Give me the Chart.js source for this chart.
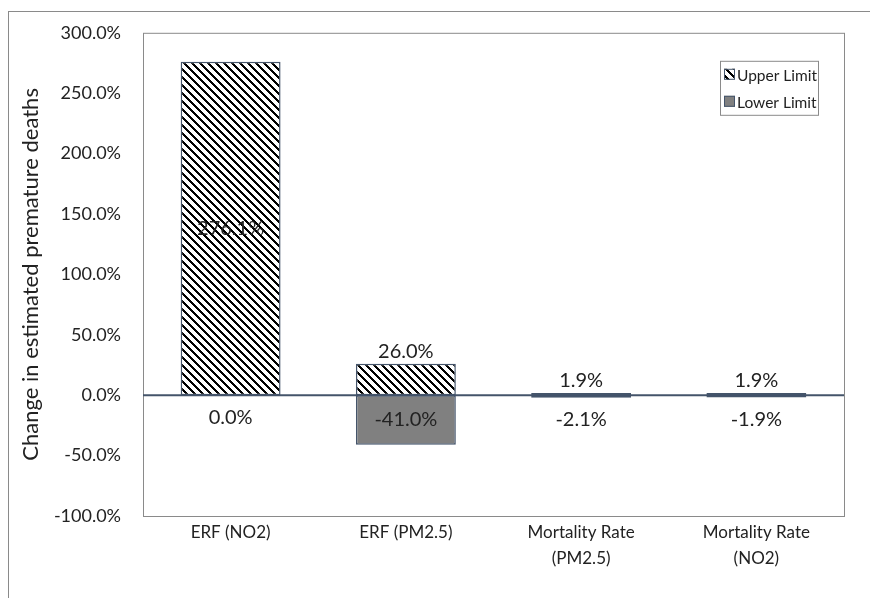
<!DOCTYPE html>
<html>
<head>
<meta charset="utf-8">
<script src="https://cdn.jsdelivr.net/npm/chart.js@4.4.0/dist/chart.umd.min.js"></script>
<style>
    body { margin: 0; background: #fff; }
    #wrap { position: relative; width: 870px; height: 598px; overflow: hidden; }
    #frame { position: absolute; left: 8px; top: 11px; width: 900px; height: 700px;
             border-left: 1px solid #8a8a8a; border-top: 1px solid #8a8a8a; }
    canvas { position: absolute; left: 0; top: 0; }
</style>
</head>
<body>
<div id="wrap">
    <div id="frame"></div>
    <canvas id="limits" width="870" height="598"></canvas>
</div>
<script>
// categories and series
const CATEGORIES = ['ERF (NO2)', 'ERF (PM2.5)', ['Mortality Rate', '(PM2.5)'], ['Mortality Rate', '(NO2)']];
const UPPER_LIMIT = [276.1, 26.0, 1.9, 1.9];
const LOWER_LIMIT = [0.0, -41.0, -2.1, -1.9];
const SERIES_NAMES = ['Upper Limit', 'Lower Limit'];
const Y_TICKS = { min: -100, max: 300, step: 50 };

const FONT = 'Lato, "Open Sans", sans-serif';
const TEXT = '#222';
const EDGE = '#44546a';
const FRAME = '#8a8a8a';

// Excel-like dark downward diagonal hatch
function makeHatch() {
    var c = document.createElement('canvas');
    c.width = 8; c.height = 8;
    var g = c.getContext('2d');
    g.fillStyle = '#fff';
    g.fillRect(0, 0, 8, 8);
    g.fillStyle = '#000';
    for (var i = 0; i < 8; i++) {
        for (var k = 0; k < 3; k++) {
            g.fillRect((i + k) % 8, i, 1, 1);
        }
    }
    return g.createPattern(c, 'repeat');
}
var hatch = makeHatch();

function pct(v) {
    return v.toFixed(1) + '%';
}

// plot frame + zero line, drawn under the bars
var plotFrame = {
    id: 'plotFrame',
    beforeDatasetsDraw: function (chart) {
        var ctx = chart.ctx, a = chart.chartArea;
        var y0 = chart.scales.y.getPixelForValue(0);
        ctx.save();
        ctx.strokeStyle = FRAME;
        ctx.lineWidth = 1;
        ctx.strokeRect(a.left + 0.5, a.top + 0.5, a.right - a.left, a.bottom - a.top);
        ctx.strokeStyle = EDGE;
        ctx.lineWidth = 2;
        ctx.beginPath();
        ctx.moveTo(a.left, y0);
        ctx.lineTo(a.right, y0);
        ctx.stroke();
        ctx.restore();
    }
};

// value labels: centred when the bar is tall enough, otherwise just past its end
var valueLabels = {
    id: 'valueLabels',
    afterDatasetsDraw: function (chart) {
        var ctx = chart.ctx;
        ctx.save();
        ctx.font = '20px ' + FONT;
        ctx.fillStyle = TEXT;
        ctx.textAlign = 'center';
        chart.data.datasets.forEach(function (ds, di) {
            chart.getDatasetMeta(di).data.forEach(function (bar, i) {
                var v = ds.data[i];
                var h = Math.abs(bar.base - bar.y);
                var y;
                if (h > 40) {
                    ctx.textBaseline = 'middle';
                    y = (bar.base + bar.y) / 2;
                } else if (v > 0) {
                    ctx.textBaseline = 'bottom';
                    y = Math.min(bar.y, bar.base) - 2;
                } else {
                    ctx.textBaseline = 'top';
                    y = Math.max(bar.y, bar.base) + 12;
                }
                ctx.fillText(pct(v), bar.x, y);
            });
        });
        ctx.restore();
    }
};

// boxed legend in the top right of the plot
var boxLegend = {
    id: 'boxLegend',
    afterDraw: function (chart) {
        var ctx = chart.ctx, a = chart.chartArea;
        var right = a.right - 26, top = a.top + 28;
        var w = 98, rowH = 27;
        var left = right - w;
        ctx.save();
        ctx.fillStyle = '#fff';
        ctx.fillRect(left, top, w, rowH * 2);
        ctx.strokeStyle = FRAME;
        ctx.lineWidth = 1;
        ctx.strokeRect(left + 0.5, top + 0.5, w, rowH * 2);
        ctx.font = '15.5px ' + FONT;
        ctx.textBaseline = 'middle';
        ctx.textAlign = 'left';
        chart.data.datasets.forEach(function (ds, i) {
            var cy = top + 14 + i * rowH;
            ctx.fillStyle = ds.backgroundColor;
            ctx.fillRect(left + 4, cy - 6, 11, 11);
            ctx.strokeStyle = EDGE;
            ctx.strokeRect(left + 4.5, cy - 5.5, 10, 10);
            ctx.fillStyle = TEXT;
            ctx.fillText(ds.label, left + 17, cy + 1);
        });
        ctx.restore();
    }
};

var chart = new Chart(document.getElementById('limits'), {
    type: 'bar',
    data: {
        labels: CATEGORIES,
        datasets: [
            {
                label: SERIES_NAMES[0],
                data: UPPER_LIMIT,
                backgroundColor: hatch,
                borderColor: EDGE,
                borderWidth: 1.5,
                borderSkipped: false
            },
            {
                label: SERIES_NAMES[1],
                data: LOWER_LIMIT,
                backgroundColor: '#808080',
                borderColor: EDGE,
                borderWidth: 1.5,
                borderSkipped: false
            }
        ]
    },
    options: {
        responsive: false,
        animation: false,
        layout: { padding: { top: 30, right: 26, left: 0, bottom: 0 } },
        plugins: {
            legend: { display: false },
            tooltip: { enabled: false }
        },
        datasets: {
            bar: { grouped: false, categoryPercentage: 1.0, barPercentage: 0.57 }
        },
        scales: {
            x: {
                grid: { display: false, drawTicks: false },
                border: { display: false },
                ticks: {
                    color: TEXT,
                    font: { family: FONT, size: 17, lineHeight: 1.55 },
                    padding: 3,
                    maxRotation: 0,
                    autoSkip: false
                },
                afterFit: function (s) { s.height = 82; }
            },
            y: {
                min: Y_TICKS.min,
                max: Y_TICKS.max,
                grid: { display: false, drawTicks: false },
                border: { display: false },
                ticks: {
                    stepSize: Y_TICKS.step,
                    color: TEXT,
                    font: { family: FONT, size: 18 },
                    padding: 22,
                    callback: function (v) { return pct(v); }
                },
                title: {
                    display: true,
                    text: 'Change in estimated premature deaths',
                    color: TEXT,
                    font: { family: FONT, size: 22 },
                    padding: { top: 18, bottom: 0 }
                },
                afterFit: function (s) { s.width = 143; }
            }
        }
    },
    plugins: [plotFrame, valueLabels, boxLegend]
});
</script>
</body>
</html>
